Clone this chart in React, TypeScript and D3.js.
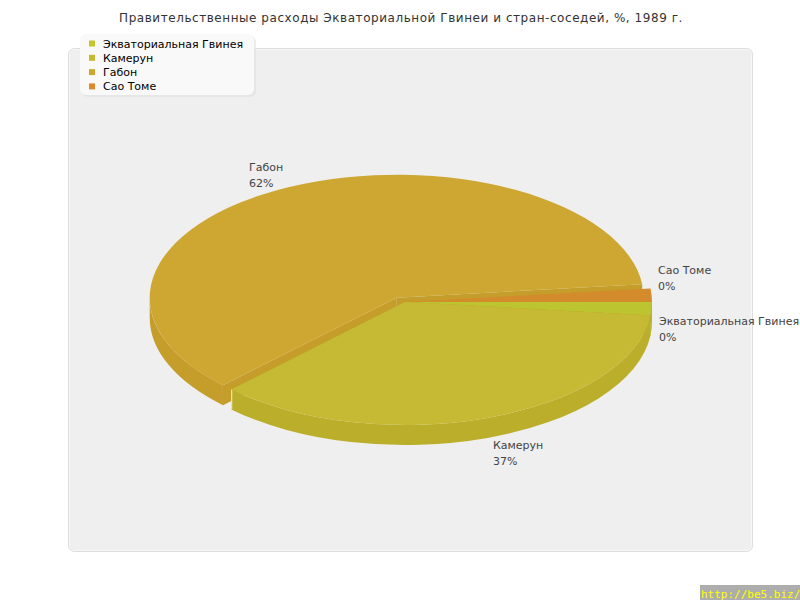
import React from 'react';
import * as d3 from 'd3';

// ---- data ----
const title = 'Правительственные расходы Экваториальной Гвинеи и стран-соседей, %, 1989 г.';
const categories = ['Экваториальная Гвинея', 'Камерун', 'Габон', 'Сао Томе'];
const shares = [0.49, 36.6, 62.42, 0.49];
const topColors = ['#BCC42F', '#C6B934', '#CEA632', '#D48B2C'];
const sideColors = ['#B2BA2A', '#BBAE2B', '#C49D2B', '#C8822A'];
const legendColors = ['#C4C42C', '#C8B92C', '#D0A530', '#DA8C28'];
const explodeDist = [0, 0, 19, 0];
// label layout (text start x, first line centre y)
const labelLayout = [
  { x: 659, y: 321 },
  { x: 493, y: 445 },
  { x: 249, y: 167 },
  { x: 658, y: 270 },
];

// ---- layout ----
const W = 800;
const H = 600;
const cx = 405;
const cy = 302;
const rx = 247;
const ry = 123;
const depth = 20;
const EXPLODE_Y = 0.25; // vertical factor of explode offset
const MIN_SHARE = 1.8; // minimum visible slice size
const FONT = '"DejaVu Sans", Verdana, sans-serif';

type Pt = { x: number; y: number };
type Slice = { i: number; a0: number; a1: number; c: Pt };

function pt(c: Pt, a: number, dy = 0): [number, number] {
  return [c.x + rx * Math.cos(a), c.y + ry * Math.sin(a) + dy];
}

function topPath(s: Slice) {
  const [x0, y0] = pt(s.c, s.a0);
  const [x1, y1] = pt(s.c, s.a1);
  const large = s.a1 - s.a0 > Math.PI ? 1 : 0;
  return `M${s.c.x},${s.c.y}L${x0},${y0}A${rx},${ry} 0 ${large} 1 ${x1},${y1}Z`;
}

function wallPath(s: Slice, a: number, b: number) {
  const [x0, y0] = pt(s.c, a);
  const [x1, y1] = pt(s.c, b);
  const [x2, y2] = pt(s.c, b, depth);
  const [x3, y3] = pt(s.c, a, depth);
  const large = b - a > Math.PI ? 1 : 0;
  return `M${x0},${y0}A${rx},${ry} 0 ${large} 1 ${x1},${y1}L${x2},${y2}A${rx},${ry} 0 ${large} 0 ${x3},${y3}Z`;
}

function facePath(s: Slice, a: number) {
  const [x0, y0] = pt(s.c, a);
  return `M${s.c.x},${s.c.y}L${x0},${y0}L${x0},${y0 + depth}L${s.c.x},${s.c.y + depth}Z`;
}

export default function App() {
  const pie = d3
    .pie<number>()
    .sort(null)
    .value((d) => Math.max(d, MIN_SHARE))
    .startAngle(0)
    .endAngle(2 * Math.PI);
  const arcs = pie(shares);
  const slices: Slice[] = arcs.map((a, i) => {
    const m = (a.startAngle + a.endAngle) / 2;
    const d = explodeDist[i];
    return {
      i,
      a0: a.startAngle,
      a1: a.endAngle,
      c: { x: cx + d * Math.cos(m), y: cy + d * Math.sin(m) * EXPLODE_Y },
    };
  });

  // visible cut faces
  const faces: { d: string; key: number; i: number }[] = [];
  slices.forEach((s) => {
    if (Math.cos(s.a0) < 0) faces.push({ d: facePath(s, s.a0), key: Math.sin(s.a0), i: s.i });
    if (Math.cos(s.a1) > 0) faces.push({ d: facePath(s, s.a1), key: Math.sin(s.a1), i: s.i });
  });
  faces.sort((a, b) => a.key - b.key);

  // visible outer walls (front half)
  const walls: { d: string; i: number }[] = [];
  const edges: { x: number; y: number }[] = [];
  slices.forEach((s) => {
    const a = Math.max(s.a0, 0);
    const b = Math.min(s.a1, Math.PI);
    if (b > a) walls.push({ d: wallPath(s, a, b), i: s.i });
    if (s.a1 > Math.PI / 2 && s.a1 < Math.PI) {
      const [x, y] = pt(s.c, s.a1);
      edges.push({ x, y });
    }
  });

  const legendY0 = 43.5;
  const legendStep = 14.3;

  return (
    <svg
      width={W}
      height={H}
      style={{ position: 'absolute', left: 0, top: 0, background: '#fff' }}
      fontFamily={FONT}
    >
      <rect x={0} y={0} width={W} height={H} fill="#fff" />
      <text x={401} y={22} textAnchor="middle" fontSize={12} letterSpacing={0.55} fill="#333">
        {title}
      </text>

      {/* panel */}
      <rect x={68.5} y={48.5} width={684} height={503} rx={6} fill="#EFEFEF" stroke="#DDDDDD" />
      <rect x={69.5} y={49.5} width={682} height={501} rx={5} fill="none" stroke="#F7F7F7" />

      {/* pie */}
      <g>
        {faces.map((f, k) => (
          <path key={'f' + k} d={f.d} fill={sideColors[f.i]} />
        ))}
        {walls.map((w, k) => (
          <path key={'w' + k} d={w.d} fill={sideColors[w.i]} />
        ))}
        {edges.map((e, k) => (
          <line key={'e' + k} x1={e.x + 0.5} x2={e.x + 0.5} y1={e.y} y2={e.y + depth} stroke="#F4F0C8" strokeWidth={1} />
        ))}
        {slices.map((s) => (
          <path key={'t' + s.i} d={topPath(s)} fill={topColors[s.i]} />
        ))}
      </g>

      {/* slice labels */}
      {categories.map((c, i) => (
        <text key={'l' + i} fontSize={11} fill="#444">
          <tspan x={labelLayout[i].x} y={labelLayout[i].y + 4}>
            {c}
          </tspan>
          <tspan x={labelLayout[i].x} y={labelLayout[i].y + 20}>
            {`${Math.round(shares[i])}%`}
          </tspan>
        </text>
      ))}

      {/* legend */}
      <rect x={82} y={36} width={174} height={61} rx={6} fill="#E2E2E2" opacity={0.7} />
      <rect x={80} y={34} width={174} height={61} rx={6} fill="#F9F9F9" />
      {categories.map((c, i) => (
        <g key={'lg' + i}>
          <rect x={89} y={legendY0 + i * legendStep - 3} width={6} height={6} fill={legendColors[i]} />
          <text x={103} y={legendY0 + i * legendStep + 4} fontSize={11} fill="#000">
            {c}
          </text>
        </g>
      ))}

      {/* watermark */}
      <rect x={700} y={585} width={100} height={15} fill="#ADADAD" />
      <text x={701} y={598} fontSize={11} fill="#FFFF00" fontFamily='"DejaVu Sans Mono", monospace'>
        http://be5.biz/
      </text>
    </svg>
  );
}
